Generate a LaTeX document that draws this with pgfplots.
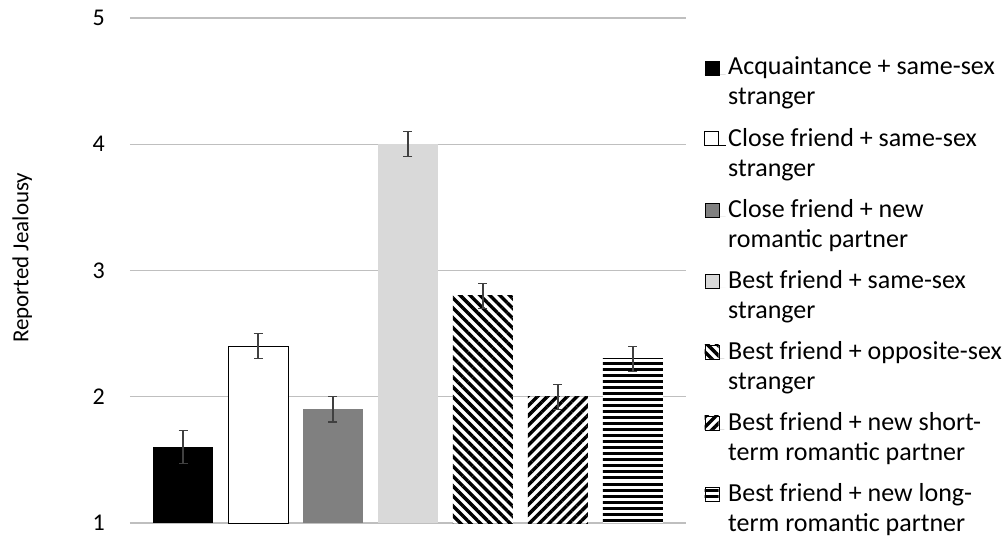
\documentclass[border=0pt]{standalone}
\usepackage{fontspec}
\setmainfont{Carlito}
\usepackage{pgfplots}
\pgfplotsset{compat=1.18}
\usetikzlibrary{patterns.meta}

\definecolor{gridgray}{HTML}{BFBFBF}
\definecolor{midgray}{HTML}{808080}
\definecolor{lightgray}{HTML}{D9D9D9}
\definecolor{errgray}{HTML}{404040}

\pgfplotsset{
  errstyle/.style={
    error bars/.cd, y dir=both, y explicit,
    error bar style={errgray, line width=1.2pt},
    error mark options={errgray, rotate=90, mark size=4.5pt, line width=1.2pt},
  },
  % key square sits beside the first line of a two-line entry
  boxlegend/.style={legend image code/.code={
    \draw[##1] (0pt,7pt) rectangle (14pt,21pt);
    \path (0pt,7pt) -- (21pt,7pt);}},
}

\begin{document}
\begin{tikzpicture}
\begin{axis}[
  scale only axis,
  width=556pt, height=505pt,
  at={(0,0)}, anchor=south west,
  xmin=0.2933, xmax=7.7067,
  ymin=1, ymax=5,
  ytick={1,2,3,4,5},
  xtick=\empty,
  ymajorgrids,
  grid style={gridgray, line width=1.2pt},
  axis line style={draw=none},
  major tick length=0pt,
  yticklabel style={font=\fontsize{24}{28}\selectfont, inner sep=0pt, xshift=-25pt},
  /pgf/number format/assume math mode=true,
  ylabel={Reported Jealousy},
  ylabel style={font=\fontsize{23}{28}\selectfont, at={(axis description cs:-0.194,0.525)}, anchor=center},
  ybar, bar width=60pt, bar shift=0pt,
  legend style={
    draw=none, fill=none,
    at={(axis description cs:1.0324,0.927)}, anchor=north west,
    row sep=17.5pt, inner sep=0pt,
    font=\fontsize{26}{30}\selectfont,
    cells={align=left},
  },
  legend cell align=left,
]
\addplot[fill=black, draw=none, boxlegend, errstyle]
  coordinates {(1,1.6) +- (0,0.13)};
\addlegendentry{Acquaintance + same-sex\\stranger}

\addplot[fill=white, draw=black, line width=1pt, boxlegend, errstyle]
  coordinates {(2,2.4) +- (0,0.1)};
\addlegendentry{Close friend + same-sex\\stranger}

\addplot[fill=midgray, draw=none, boxlegend, errstyle]
  coordinates {(3,1.9) +- (0,0.1)};
\addlegendentry{Close friend + new\\romantic partner}

\addplot[fill=lightgray, draw=none, boxlegend, errstyle]
  coordinates {(4,4.0) +- (0,0.1)};
\addlegendentry{Best friend + same-sex\\stranger}

\addplot[fill=white, draw=none,
  postaction={pattern={Lines[angle=-45, distance=7pt, line width=3.4pt]}},
  boxlegend, errstyle]
  coordinates {(5,2.8) +- (0,0.1)};
\addlegendentry{Best friend + opposite-sex\\stranger}

\addplot[fill=white, draw=none,
  postaction={pattern={Lines[angle=45, distance=7pt, line width=3.4pt]}},
  boxlegend, errstyle]
  coordinates {(6,2.0) +- (0,0.1)};
\addlegendentry{Best friend + new short-\\term romantic partner}

\addplot[fill=white, draw=none,
  postaction={pattern={Lines[angle=0, distance=6pt, line width=3pt]}},
  boxlegend, errstyle]
  coordinates {(7,2.3) +- (0,0.1)};
\addlegendentry{Best friend + new long-\\term romantic partner}
\end{axis}
\path[use as bounding box] (-130pt,-15pt) rectangle (876pt,505pt+18pt);
\end{tikzpicture}
\end{document}
